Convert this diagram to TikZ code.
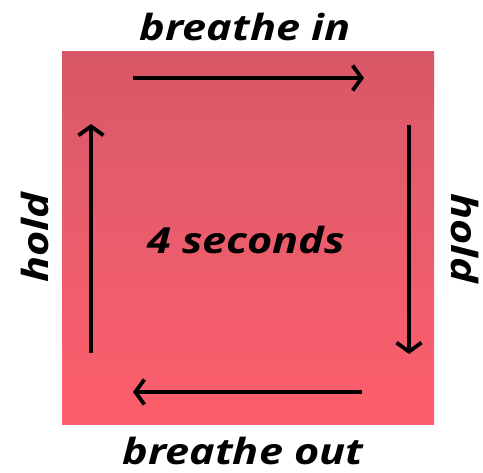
\documentclass[tikz,border=0pt]{standalone}
\usepackage{fontspec}
\setmainfont{Open Sans}
\usetikzlibrary{arrows.meta}
\definecolor{sqtop}{RGB}{198,78,95}
\definecolor{sqmid}{RGB}{228,92,108}
\definecolor{sqbot}{RGB}{252,94,108}
\definecolor{sqedge}{RGB}{240,62,80}
\pgfdeclareverticalshading{sqshade}{100bp}{color(0bp)=(sqedge); color(5bp)=(sqbot); color(28bp)=(sqbot); color(58bp)=(sqmid); color(100bp)=(sqtop)}
\newcommand{\wide}[1]{\scalebox{1.2}[1]{#1}}
\tikzset{
  lbl/.style={font=\fontsize{36}{40}\selectfont\bfseries\itshape, inner sep=0pt, text=black},
  flow/.style={line width=3.8pt, -{Straight Barb[length=9pt,width=25pt,line width=3.8pt]}}
}
\begin{document}
\begin{tikzpicture}[x=1pt,y=-1pt]
\useasboundingbox (0,0) rectangle (483,473);
\shade[shading=sqshade] (62,52) rectangle (434,425);
\node[lbl, anchor=base] (tin) at (245,41) {\wide{breathe in}};
\node[lbl, anchor=base] (tout) at (243,465) {\wide{breathe out}};
\node[lbl, anchor=base] (sec) at (246,254) {\wide{4 seconds}};
\node[lbl, rotate=90] (hl) at (35,238) {\wide{hold}};
\node[lbl, rotate=-90] (hr) at (465,238) {\wide{hold}};
\coordinate (a1) at (133,78);
\coordinate (a2) at (364,78);
\coordinate (b1) at (409,125);
\coordinate (b2) at (409,354);
\coordinate (c1) at (362,392);
\coordinate (c2) at (133,392);
\coordinate (d1) at (91,353);
\coordinate (d2) at (91,124);
\draw[flow] (a1) -- (a2);
\draw[flow] (b1) -- (b2);
\draw[flow] (c1) -- (c2);
\draw[flow] (d1) -- (d2);
\end{tikzpicture}
\end{document}
